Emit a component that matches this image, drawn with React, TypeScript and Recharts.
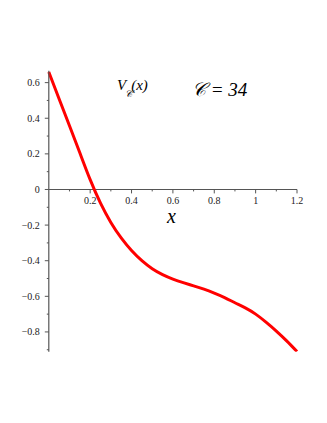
import React from 'react';
import { LineChart, Line, XAxis, YAxis, ReferenceLine, ReferenceDot } from 'recharts';

const xValues = [0, 0.05, 0.1, 0.15, 0.2, 0.25, 0.3, 0.35, 0.4, 0.45, 0.5, 0.55, 0.6, 0.65, 0.7, 0.75, 0.8, 0.85, 0.9, 0.95, 1.0, 1.05, 1.1, 1.15, 1.2];
const vValues = [0.66, 0.508, 0.358, 0.206, 0.055, -0.077, -0.185, -0.272, -0.343, -0.4, -0.445, -0.478, -0.503, -0.523, -0.541, -0.56, -0.582, -0.607, -0.636, -0.665, -0.7, -0.745, -0.795, -0.85, -0.91];

const xMajorTicks = [0.2, 0.4, 0.6, 0.8, 1, 1.2];
const xMinorTicks = [0.1, 0.3, 0.5, 0.7, 0.9, 1.1];
const yTicks = [-0.9, -0.8, -0.7, -0.6, -0.5, -0.4, -0.3, -0.2, -0.1, 0, 0.1, 0.2, 0.3, 0.4, 0.5, 0.6];
const yLabelled = [-0.8, -0.6, -0.4, -0.2, 0, 0.2, 0.4, 0.6];

const data = xValues.map((x, i) => ({ x, v: vValues[i] }));

const axisColor = '#555';
const font = 'Liberation Serif, DejaVu Serif, serif';

const fmt = (v: number) => {
  const s = String(Math.round(v * 10) / 10);
  return s.startsWith('-') ? '\u2212' + s.slice(1) : s;
};

const YTick = (props: any) => {
  const { x, y, payload } = props;
  const val = Math.round(payload.value * 10) / 10;
  const major = yLabelled.some((t) => Math.abs(t - val) < 1e-6);
  return (
    <g>
      <line x1={x - (major ? 4 : 2)} x2={x} y1={y} y2={y} stroke={axisColor} strokeWidth={1} />
      {major && (
        <text x={x - 9} y={y} dy="0.35em" textAnchor="end" fontFamily={font} fontSize={10} fill="#222">
          {fmt(val)}
        </text>
      )}
    </g>
  );
};

const App: React.FC = () => {
  return (
    <div style={{ position: 'relative', width: 311, height: 407, fontFamily: font }}>
      <LineChart
        width={311}
        height={407}
        data={data}
        margin={{ top: 62.7, right: 22, bottom: 63.3, left: 0 }}
      >
        <XAxis dataKey="x" type="number" domain={[0, 1.2]} hide />
        <YAxis
          type="number"
          domain={[-0.911, 0.667]}
          ticks={yTicks}
          width={40.8}
          tickSize={0}
          tickMargin={0}
          tickLine={false}
          axisLine={{ stroke: axisColor, strokeWidth: 1.2 }}
          tick={<YTick />}
          interval={0}
          allowDataOverflow
        />
        <ReferenceLine y={0} stroke={axisColor} strokeWidth={1.2} />
        {xMajorTicks.map((t) => (
          <ReferenceLine
            key={'M' + t}
            segment={[{ x: t, y: 0 }, { x: t, y: -0.022 }]}
            stroke={axisColor}
            strokeWidth={1}
          />
        ))}
        {xMinorTicks.map((t) => (
          <ReferenceLine
            key={'m' + t}
            segment={[{ x: t, y: 0 }, { x: t, y: -0.011 }]}
            stroke={axisColor}
            strokeWidth={1}
          />
        ))}
        {xMajorTicks.map((t) => (
          <ReferenceDot
            key={'l' + t}
            x={t}
            y={0}
            r={0}
            stroke="none"
            fill="none"
            label={{ value: fmt(t), position: 'bottom', offset: 7, fontFamily: font, fontSize: 10, fill: '#222' }}
          />
        ))}
        <Line
          type="natural"
          dataKey="v"
          stroke="#ff0000"
          strokeWidth={3}
          dot={false}
          isAnimationActive={false}
        />
      </LineChart>
      <svg
        width={311}
        height={407}
        style={{ position: 'absolute', left: 0, top: 0, pointerEvents: 'none' }}
      >
        <g fontFamily={font} fontStyle="italic" fill="#000">
          <text x={109} y={82} fontSize={15}>
            V
            <tspan dx={-1} dy={7} fontSize={10}>{'\u{1D49E}'}</tspan>
            <tspan dx={-1} dy={-7} fontSize={15}>(x)</tspan>
          </text>
          <text x={184} y={88} fontSize={19}>{'\u{1D49E} = 34'}</text>
          <text x={159} y={215} fontSize={20}>x</text>
        </g>
      </svg>
    </div>
  );
};

export default App;
